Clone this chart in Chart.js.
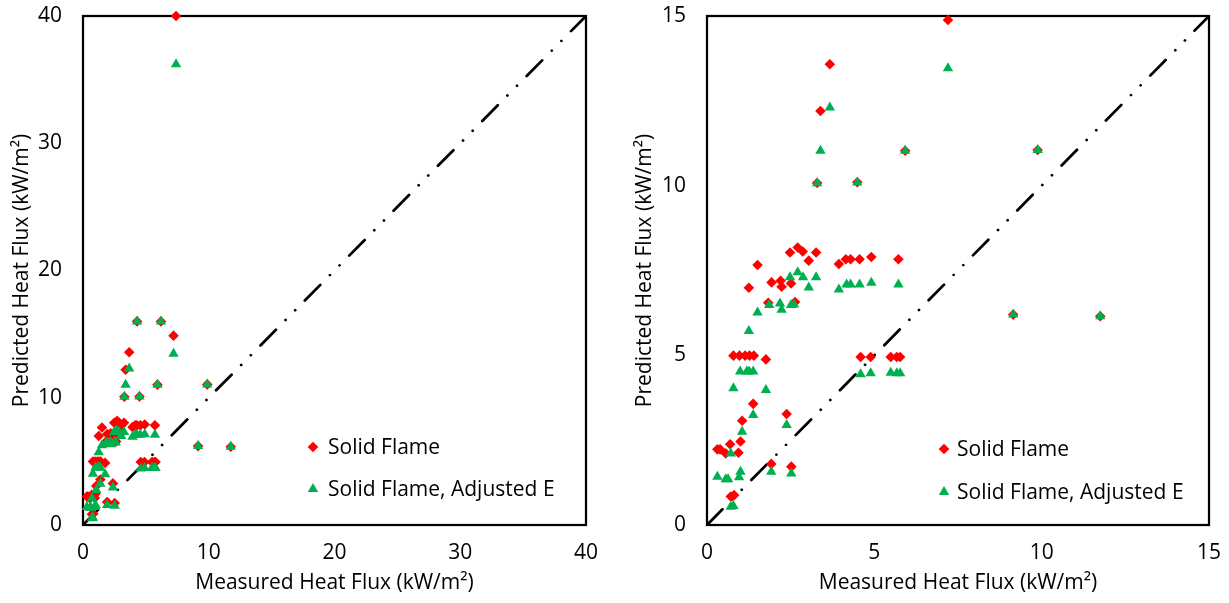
<!DOCTYPE html>
<html>
<head>
<meta charset="utf-8">
<script src="https://cdn.jsdelivr.net/npm/chart.js@4.4.1/dist/chart.umd.min.js"></script>
<style>
  body { margin: 0; background: #fff; }
  #wrap { position: relative; width: 1229px; height: 603px; }
  #wrap canvas { position: absolute; top: 0; }
</style>
</head>
<body>
<div id="wrap">
  <canvas id="fullChart" width="614" height="603" style="left:0"></canvas>
  <canvas id="zoomChart" width="615" height="603" style="left:614px"></canvas>
</div>
<script>
// measured vs predicted heat flux (kW/m2)
const solidX = [7.4, 4.3, 6.2, 7.2, 3.67, 3.39, 5.92, 9.88, 3.29, 4.49, 9.15, 11.75,
  2.48, 2.71, 2.86, 3.26, 3.04, 1.51, 3.94, 4.15, 4.29, 4.56, 4.91, 5.72,
  1.25, 1.93, 2.20, 2.23, 2.51, 1.83, 2.63, 0.79, 0.97, 1.14, 1.27, 1.40, 1.76,
  4.59, 4.89, 5.49, 5.67, 5.77, 1.38, 1.05, 2.38, 0.31, 0.39, 0.56, 0.69, 0.94, 1.00,
  1.92, 2.52, 0.71, 0.81];
const solidY = [40.0, 16.0, 16.0, 14.88, 13.58, 12.2, 11.03, 11.05, 10.08, 10.1, 6.2, 6.15,
  8.03, 8.18, 8.06, 8.03, 7.79, 7.66, 7.69, 7.83, 7.83, 7.83, 7.9, 7.83,
  6.99, 7.15, 7.2, 7.02, 7.12, 6.55, 6.57, 4.99, 4.99, 4.99, 4.99, 4.99, 4.88,
  4.95, 4.95, 4.95, 4.95, 4.95, 3.57, 3.07, 3.27, 2.23, 2.23, 2.11, 2.38, 2.13, 2.46,
  1.8, 1.72, 0.84, 0.88];

const adjX = [7.4, 4.3, 6.2, 7.2, 3.67, 3.39, 5.92, 9.88, 3.29, 4.49, 9.15, 11.75,
  2.48, 2.71, 2.87, 3.26, 3.04, 3.94, 4.17, 4.29, 4.56, 4.91, 5.72, 1.51, 1.25,
  1.86, 2.18, 2.23, 2.51, 2.60, 0.99, 1.19, 1.26, 1.38, 0.79, 1.76,
  4.59, 4.89, 5.49, 5.67, 5.77, 1.38, 1.05, 2.38, 0.71,
  0.31, 0.56, 0.63, 0.96, 1.0, 1.92, 2.52, 0.71, 0.79];
const adjY = [36.2, 16.0, 16.0, 13.46, 12.3, 11.03, 11.03, 11.05, 10.07, 10.09, 6.2, 6.15,
  7.3, 7.45, 7.3, 7.3, 7.0, 6.94, 7.09, 7.09, 7.09, 7.14, 7.09, 6.26, 5.72,
  6.48, 6.53, 6.34, 6.48, 6.5, 4.52, 4.52, 4.52, 4.52, 4.03, 3.98,
  4.44, 4.47, 4.49, 4.47, 4.47, 3.24, 2.75, 2.95, 2.11,
  1.42, 1.35, 1.35, 1.41, 1.57, 1.57, 1.52, 0.54, 0.56];

const seriesNames = ['Solid Flame', 'Solid Flame, Adjusted E'];
const fullTicks = [0, 10, 20, 30, 40];
const zoomTicks = [0, 5, 10, 15];

const RED = '#ff0000';
const GREEN = '#00b050';
const FONT = '"Open Sans", sans-serif';
const FONT_SIZE = 21;

function toPoints(xs, ys) {
  return xs.map((x, i) => ({ x: x, y: ys[i] }));
}

// black box round the plot area
const framePlugin = {
  id: 'frame',
  beforeDatasetsDraw(chart) {
    const { ctx, chartArea: a } = chart;
    ctx.save();
    ctx.strokeStyle = '#000';
    ctx.lineWidth = 2.25;
    ctx.strokeRect(a.left, a.top, a.right - a.left, a.bottom - a.top);
    ctx.restore();
  }
};

function drawMarker(ctx, style, x, y, r) {
  ctx.beginPath();
  if (style === 'rectRot') {
    ctx.moveTo(x - r, y);
    ctx.lineTo(x, y - r);
    ctx.lineTo(x + r, y);
    ctx.lineTo(x, y + r);
  } else {
    ctx.moveTo(x, y - r);
    ctx.lineTo(x + r * 0.866, y + r * 0.5);
    ctx.lineTo(x - r * 0.866, y + r * 0.5);
  }
  ctx.closePath();
  ctx.fill();
}

// legend sitting inside the plot
const keyPlugin = {
  id: 'key',
  afterDraw(chart, args, opts) {
    const { ctx, chartArea: a } = chart;
    ctx.save();
    ctx.font = FONT_SIZE + 'px ' + FONT;
    ctx.textBaseline = 'middle';
    [0, 1].forEach((idx, row) => {
      const ds = chart.data.datasets[idx];
      const cx = a.left + opts.x;
      const cy = a.top + opts.y + row * opts.rowGap;
      ctx.fillStyle = ds.backgroundColor;
      drawMarker(ctx, ds.pointStyle, cx, cy, ds.pointRadius);
      ctx.fillStyle = '#000';
      ctx.fillText(ds.label, cx + opts.textGap, cy + 1);
    });
    ctx.restore();
  }
};

function makeChart(id, ticks, opts) {
  const lo = ticks[0];
  const hi = ticks[ticks.length - 1];
  const step = ticks[1] - ticks[0];
  const axisFont = { family: FONT, size: FONT_SIZE };

  return new Chart(document.getElementById(id), {
    type: 'scatter',
    data: {
      datasets: [
        {
          label: seriesNames[0],
          data: toPoints(solidX, solidY),
          pointStyle: 'rectRot',
          pointRadius: 5.3,
          borderWidth: 0,
          backgroundColor: RED,
          borderColor: RED,
          order: 2,
          clip: 8
        },
        {
          label: seriesNames[1],
          data: toPoints(adjX, adjY),
          pointStyle: 'triangle',
          pointRadius: 6,
          borderWidth: 0,
          backgroundColor: GREEN,
          borderColor: GREEN,
          order: 1,
          clip: 8
        },
        {
          // 1:1 line
          type: 'line',
          label: 'parity',
          data: [{ x: lo, y: lo }, { x: hi, y: hi }],
          borderColor: '#000',
          borderWidth: 2.75,
          borderDash: [22, 13.7, 0.01, 13.7, 0.01, 13.7],
          borderCapStyle: 'round',
          pointRadius: 0,
          fill: false,
          order: 3
        }
      ]
    },
    options: {
      responsive: false,
      animation: false,
      events: [],
      layout: { padding: { left: 0, top: 16, right: opts.padRight, bottom: 0 } },
      plugins: {
        legend: { display: false },
        tooltip: { enabled: false },
        key: opts.key
      },
      scales: {
        x: {
          type: 'linear',
          min: lo,
          max: hi,
          ticks: { stepSize: step, padding: 15.4, color: '#000', font: axisFont },
          grid: { display: false, drawTicks: false },
          border: { display: false },
          title: {
            display: true,
            text: 'Measured Heat Flux (kW/m²)',
            color: '#000',
            font: axisFont,
            padding: { top: 0, bottom: 7.4 }
          },
          afterFit(scale) {
            scale.height = 78;
            scale.paddingLeft = 0;
            scale.paddingRight = 0;
          }
        },
        y: {
          type: 'linear',
          min: lo,
          max: hi,
          ticks: { stepSize: step, padding: 21, color: '#000', font: axisFont },
          grid: { display: false, drawTicks: false },
          border: { display: false },
          title: {
            display: true,
            text: 'Predicted Heat Flux (kW/m²)',
            color: '#000',
            font: axisFont,
            padding: { top: opts.yTitlePad, bottom: 0 }
          },
          afterFit(scale) {
            scale.width = opts.yWidth;
            scale.paddingTop = 0;
            scale.paddingBottom = 0;
          }
        }
      }
    },
    plugins: [framePlugin, keyPlugin]
  });
}

makeChart('fullChart', fullTicks, {
  yWidth: 83,
  padRight: 28,
  yTitlePad: 9.4,
  key: { x: 230, y: 431, rowGap: 42, textGap: 15 }
});

makeChart('zoomChart', zoomTicks, {
  yWidth: 93,
  padRight: 20,
  yTitlePad: 18.4,
  key: { x: 237, y: 433, rowGap: 43, textGap: 13 }
});
</script>
</body>
</html>
